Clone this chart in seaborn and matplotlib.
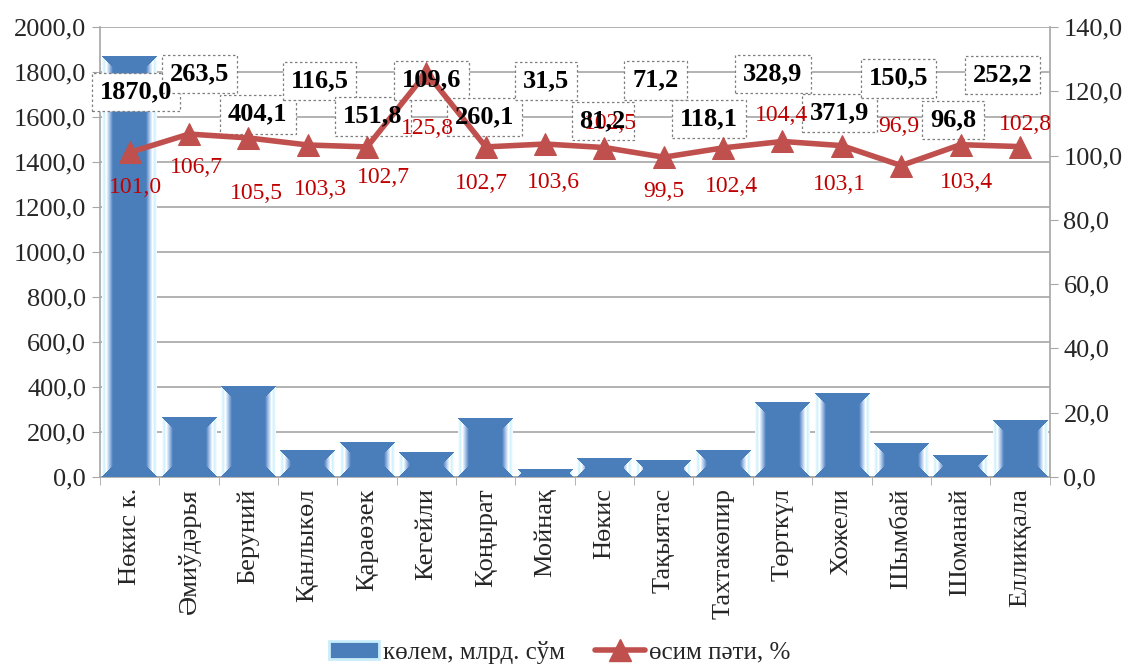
import numpy as np
import pandas as pd
import matplotlib
matplotlib.use("Agg")
import matplotlib.pyplot as plt
from matplotlib.colors import LinearSegmentedColormap, to_rgba
from matplotlib.patches import Patch
from matplotlib.lines import Line2D
from matplotlib.ticker import FuncFormatter, MultipleLocator
import seaborn as sns

districts = [
    "Нөкис к.", "Әмиўдәрья", "Беруний", "Қанлыкөл", "Қараөзек", "Кегейли",
    "Қоңырат", "Мойнақ", "Нөкис", "Тақыятас", "Тахтакөпир", "Төрткүл",
    "Хожели", "Шымбай", "Шоманай", "Елликқала",
]
volume = [1870.0, 263.5, 404.1, 116.5, 151.8, 109.6, 260.1, 31.5,
          81.2, 71.2, 118.1, 328.9, 371.9, 150.5, 96.8, 252.2]
growth = [101.0, 106.7, 105.5, 103.3, 102.7, 125.8, 102.7, 103.6,
          102.5, 99.5, 102.4, 104.4, 103.1, 96.9, 103.4, 102.8]

bar_name = "көлем, млрд. сўм"
line_name = "өсим пәти, %"

# where the excel data labels were dragged to (left-axis units / offset points)
vol_label_x = [0.11, 1.18, 2.16, 3.2, 4.1, 5.09, 5.98, 7.01,
               7.97, 8.86, 9.76, 10.84, 11.96, 12.96, 13.87, 14.71]
vol_label_y = [1711, 1791, 1613, 1760, 1604, 1764, 1600, 1760,
               1582, 1764, 1591, 1791, 1618, 1773, 1587, 1787]
growth_offsets = [(4, -25), (5, -24), (6, -40), (9, -32), (12, -22), (1, -40),
                  (-3, -26), (6, -28), (4, 17), (0, -25), (6, -28), (-1, 19),
                  (-2, -28), (-2, 28), (4, -27), (4, 16)]

sns.set_style("white")
plt.rcParams["font.family"] = ["Liberation Serif", "DejaVu Serif"]

BLUE = "#4A7EBB"
RED = "#C0504D"
LABEL_RED = "#C00000"
GRID = "#A6A6A6"
FS = 19


def comma(v, pos=None):
    return f"{v:.1f}".replace(".", ",")


df = pd.DataFrame({"district": districts, "volume": volume, "growth": growth})

fig = plt.figure(figsize=(11.31, 6.64), dpi=100)
ax = fig.add_axes([0.0884, 0.2816, 0.8396, 0.6777])

sns.barplot(data=df, x="district", y="volume", ax=ax, color=BLUE,
            width=0.92, saturation=1, zorder=3)

ax.set_xlim(-0.5, len(districts) - 0.5)
ax.set_ylim(0, 2000)

# bevelled excel-2007 bar fill: light side bands, blue caps spreading to the corners
side = LinearSegmentedColormap.from_list(
    "side", ["#FFFFFF", "#CDF1FC", "#FFFFFF", "#C2D8F1", "#86A9D9", BLUE])
core = np.array(to_rgba(BLUE))
bev = 11.0
for p in ax.patches:
    x0, y0 = p.get_x(), p.get_y()
    w, h = p.get_width(), p.get_height()
    (px0, py0), (px1, py1) = ax.transData.transform([(x0, y0), (x0 + w, y0 + h)])
    nx, ny = max(int(round(px1 - px0)), 2), max(int(round(py1 - py0)), 1)
    cx = np.arange(nx) + 0.5
    cy = np.arange(ny) + 0.5
    dx = np.minimum(cx, nx - cx)[None, :].repeat(ny, 0)
    dy = np.minimum(cy, ny - cy)[:, None].repeat(nx, 1)
    img = np.tile(core, (ny, nx, 1))
    band = (dx < bev) & (dy > dx)
    img[band] = side(dx[band] / bev)
    p.set_facecolor("none")
    p.set_edgecolor("none")
    ax.imshow(img, aspect="auto", extent=[x0, x0 + w, y0, y0 + h],
              zorder=3, interpolation="nearest")

ax.set_xlim(-0.5, len(districts) - 0.5)
ax.set_ylim(0, 2000)
ax.yaxis.set_major_locator(MultipleLocator(200))
ax.yaxis.set_major_formatter(FuncFormatter(comma))
ax.set_xlabel("")
ax.set_ylabel("")
ax.grid(axis="y", color=GRID, linewidth=1.2, zorder=0)
ax.set_axisbelow(True)
ax.tick_params(axis="y", labelsize=FS, length=6, color=GRID, direction="out", pad=4, left=True)
ax.set_xticks(range(len(districts)))
ax.set_xticklabels(districts, rotation=90, fontsize=FS)
ax.set_xticks(np.arange(-0.5, len(districts), 1), minor=True)
ax.tick_params(axis="x", which="major", length=0, pad=8)
ax.tick_params(axis="x", which="minor", length=6, color=GRID, bottom=True)
for s in ["top", "right"]:
    ax.spines[s].set_visible(False)
for s in ["left", "bottom"]:
    ax.spines[s].set_color(GRID)
    ax.spines[s].set_linewidth(1.2)

ax2 = ax.twinx()
sns.lineplot(x=np.arange(len(districts)), y=growth, ax=ax2, sort=False,
             color=RED, linewidth=4, marker="^", markersize=16,
             markeredgecolor=RED, zorder=5)
ax2.set_ylim(0, 140)
ax2.yaxis.set_major_locator(MultipleLocator(20))
ax2.yaxis.set_major_formatter(FuncFormatter(comma))
ax2.tick_params(axis="y", labelsize=FS, length=6, color=GRID, direction="out", pad=4, right=True)
ax2.set_ylabel("")
for s in ["top", "left", "bottom"]:
    ax2.spines[s].set_visible(False)
ax2.spines["right"].set_color(GRID)
ax2.spines["right"].set_linewidth(1.2)
ax2.set_zorder(ax.get_zorder() + 1)
ax2.patch.set_visible(False)

for i, g in enumerate(growth):
    ax2.annotate(comma(g), (i, g), xytext=growth_offsets[i], textcoords="offset points",
                 ha="center", va="center", fontsize=17, color=LABEL_RED, zorder=6)

# volume labels in dashed boxes: boxes sit under the line, numbers on top
scale = 140 / 2000
for i, v in enumerate(volume):
    lx, ly = vol_label_x[i], vol_label_y[i] * scale
    box = dict(boxstyle="square,pad=0.3", facecolor="white",
               edgecolor="#7F7F7F", linestyle=(0, (2, 2)), linewidth=0.9)
    ax2.text(lx, ly, comma(v), ha="center", va="center", fontsize=19,
             fontweight="bold", color="none", zorder=2, bbox=box)
    ax2.text(lx, ly, comma(v), ha="center", va="center", fontsize=19,
             fontweight="bold", color="black", zorder=8)

handles = [
    Patch(facecolor=BLUE, edgecolor="#C9EEFA", linewidth=2),
    Line2D([0], [0], color=RED, linewidth=4, marker="^", markersize=16),
]
fig.legend(handles, [bar_name, line_name], loc="center", bbox_to_anchor=(0.495, 0.018),
           ncol=2, frameon=False, fontsize=18, handlelength=2.0, columnspacing=1.2,
           handletextpad=0.15)

fig.savefig("out.png", dpi=100)
